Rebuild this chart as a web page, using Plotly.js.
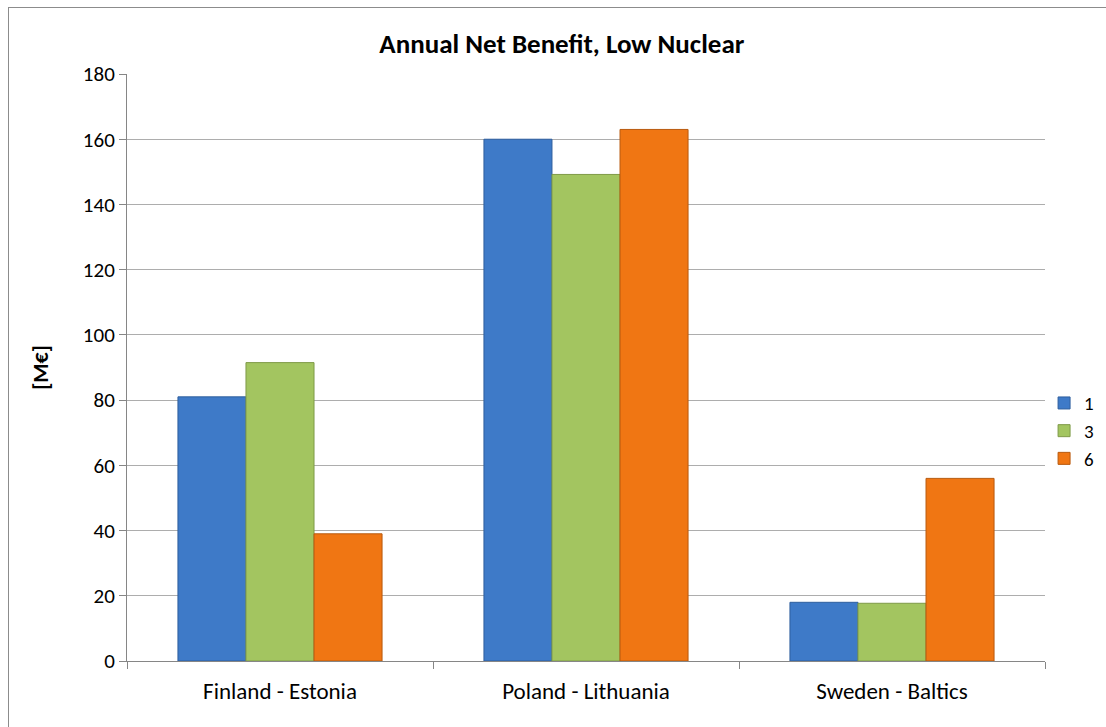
<!DOCTYPE html>
<html>
<head>
<meta charset="utf-8">
<script src="https://cdn.plot.ly/plotly-3.0.1.min.js"></script>
<style>
html,body{margin:0;padding:0;background:#fff;overflow:hidden;}
#frame{position:absolute;left:8px;top:7px;width:1110px;height:740px;border:1px solid #8c8c8c;box-sizing:border-box;pointer-events:none;z-index:5;}
#chart{position:absolute;left:0;top:0;width:1106px;height:727px;}
</style>
</head>
<body>
<div id="chart"></div>
<div id="frame"></div>
<script>
var categories = ["Finland - Estonia", "Poland - Lithuania", "Sweden - Baltics"];
var seriesNames = ["1", "3", "6"];
var values1 = [81, 160, 18];
var values3 = [91.5, 149.2, 17.7];
var values6 = [39, 163, 56];
var tickVals = [0, 20, 40, 60, 80, 100, 120, 140, 160, 180];

var fills = ["#3e7ac8", "#a3c560", "#f07613"];
var edges = ["#2f5f9e", "#7f9a48", "#b85a0e"];
var allValues = [values1, values3, values6];

var traces = allValues.map(function(v, i){
  return {
    type: "bar",
    name: seriesNames[i],
    x: categories,
    y: v,
    marker: {color: fills[i], line: {color: edges[i], width: 1}},
    hoverinfo: "y"
  };
});

var font = "Calibri, Carlito, 'Open Sans', 'Noto Sans', sans-serif";

var layout = {
  width: 1106,
  height: 727,
  paper_bgcolor: "#ffffff",
  plot_bgcolor: "#ffffff",
  margin: {l: 127, r: 61, t: 74, b: 66, autoexpand: false},
  barmode: "group",
  bargap: 0.333,
  bargroupgap: 0,
  title: {
    text: "<b>Annual Net Benefit, Low Nuclear</b>",
    x: 0.508, xref: "container", xanchor: "center",
    y: 0.94, yref: "container", yanchor: "middle",
    font: {family: font, size: 27, color: "#000"}
  },
  xaxis: {
    type: "category",
    showline: true, linecolor: "#868686", linewidth: 1,
    ticks: "outside", tickson: "boundaries", ticklen: 7, tickcolor: "#868686",
    ticklabelstandoff: 9,
    tickfont: {family: font, size: 23, color: "#000"},
    showgrid: false, zeroline: false
  },
  yaxis: {
    range: [0, 180],
    tickvals: tickVals,
    showline: true, linecolor: "#868686", linewidth: 1,
    ticks: "outside", ticklen: 7, tickcolor: "#868686",
    tickfont: {family: font, size: 21, color: "#000"},
    showgrid: true, gridcolor: "#adadad", gridwidth: 1,
    zeroline: false,
    title: {text: "<b>[M€]</b>", font: {family: font, size: 22, color: "#000"}, standoff: 28}
  },
  legend: {
    xref: "container", yref: "container",
    x: 0.944, xanchor: "left",
    y: 0.407, yanchor: "middle",
    font: {family: font, size: 19, color: "#000"},
    itemwidth: 30,
    tracegroupgap: 0,
    bgcolor: "rgba(0,0,0,0)"
  },
  showlegend: true
};

Plotly.newPlot("chart", traces, layout, {displayModeBar: false, staticPlot: true});
</script>
</body>
</html>
